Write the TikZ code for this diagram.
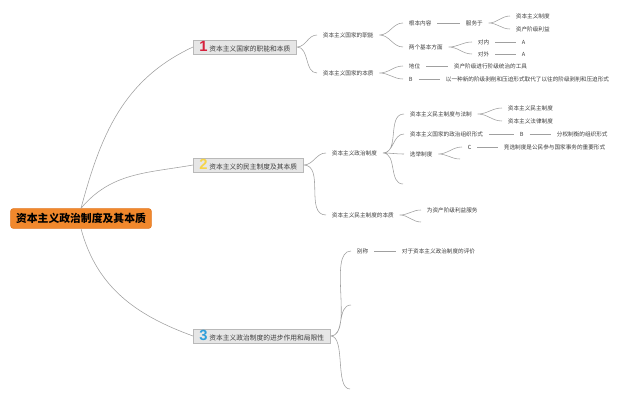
\documentclass[tikz,border=0pt]{standalone}
\usepackage{fontspec}
\newfontfamily\cjk{Noto Sans CJK SC}
\newfontfamily\numfont{Liberation Sans}
\definecolor{rootorange}{RGB}{241,136,44}
\definecolor{rootedge}{RGB}{226,118,30}
\definecolor{topicgray}{RGB}{230,230,230}
\definecolor{topicedge}{RGB}{185,185,185}
\definecolor{twiggray}{RGB}{160,160,160}
\definecolor{leaftext}{RGB}{60,60,60}
\definecolor{numred}{RGB}{214,32,60}
\definecolor{numyellow}{RGB}{246,212,72}
\definecolor{numblue}{RGB}{46,158,218}
\newcommand\topicnum[2]{{\color{#1}\numfont\bfseries\fontsize{10.5}{10}\selectfont #2}\hspace{1.2pt}}
\tikzset{
  twig/.style={draw=twiggray, line width=0.4pt},
  swing/.style={out=0, in=180},
  leaf/.style={anchor=west, inner xsep=4pt, inner ysep=1pt, text=leaftext, font=\cjk\fontsize{4}{5}\selectfont},
  topicbox/.style={anchor=west, fill=topicgray, draw=topicedge, line width=0.4pt, minimum height=0.35cm, inner xsep=4.4pt, inner ysep=0pt, text=leaftext, font=\cjk\fontsize{4.8}{6}\selectfont},
  rootbox/.style={fill=rootorange, draw=rootedge, line width=0.4pt, rounded corners=2pt, minimum width=3.52cm, minimum height=0.46cm, font=\cjk\bfseries\fontsize{7.7}{9}\selectfont}
}
\begin{document}
\begin{tikzpicture}[x=0.025cm,y=-0.025cm]
  \useasboundingbox (0,0) rectangle (640,400);
  \node[rootbox] (root) at (81,218.5) {资本主义政治制度及其本质};
  \node[topicbox] (t1) at (193,47)  {\topicnum{numred}{1}资本主义国家的职能和本质};
  \node[topicbox] (t2) at (193,165) {\topicnum{numyellow}{2}资本主义的民主制度及其本质};
  \node[topicbox] (t3) at (193,336) {\topicnum{numblue}{3}资本主义政治制度的进步作用和局限性};
  \draw[twig] (root.north) to[out=75,in=205] (t1.west);
  \draw[twig] (root.north) to[out=50,in=190] (t2.west);
  \draw[twig] (root.south) to[out=-75,in=160] (t3.west);

  \node[leaf] (a1) at (317,35) {资本主义国家的职能};
  \node[leaf] (a2) at (317,73) {资本主义国家的本质};
  \node[leaf] (b1) at (403,23) {根本内容};
  \node[leaf] (b2) at (403,47) {两个基本方面};
  \node[leaf] (c1) at (460,23) {服务于};
  \node[leaf] (d1) at (510,16) {资本主义制度};
  \node[leaf] (d2) at (510,29) {资产阶级利益};
  \node[leaf] (e1) at (472,42) {对内};
  \node[leaf] (e2) at (472,54) {对外};
  \node[leaf] (e3) at (516,42) {A};
  \node[leaf] (e4) at (516,54) {A};
  \node[leaf] (f1) at (403,66) {地位};
  \node[leaf] (f2) at (403,79) {B};
  \node[leaf] (f3) at (448,66) {资产阶级进行阶级统治的工具};
  \node[leaf] (f4) at (440,79) {以一种新的阶级剥削和压迫形式取代了以往的阶级剥削和压迫形式};
  \draw[twig] (t1.east) to[swing] (a1.west) (t1.east) to[swing] (a2.west);
  \draw[twig] (a1.east) to[swing] (b1.west) (a1.east) to[swing] (b2.west);
  \draw[twig] (c1.east) to[swing] (d1.west) (c1.east) to[swing] (d2.west);
  \draw[twig] (b2.east) to[swing] (e1.west) (b2.east) to[swing] (e2.west);
  \draw[twig] (a2.east) to[swing] (f1.west) (a2.east) to[swing] (f2.west);
  \draw[twig] (b1) -- (c1) (e1) -- (e3) (e2) -- (e4) (f1) -- (f3) (f2) -- (f4);

  \node[leaf] (g1) at (326,153) {资本主义政治制度};
  \node[leaf] (g2) at (326,215) {资本主义民主制度的本质};
  \node[leaf] (h1) at (404,114) {资本主义民主制度与法制};
  \node[leaf] (h2) at (404,134) {资本主义国家的政治组织形式};
  \node[leaf] (h3) at (404,154) {选举制度};
  \coordinate (hx) at (403,184);
  \node[leaf] (i1) at (502,108) {资本主义民主制度};
  \node[leaf] (i2) at (502,121) {资本主义法律制度};
  \node[leaf] (h4) at (514,134) {B};
  \node[leaf] (h5) at (551,134) {分权制衡的组织形式};
  \node[leaf] (j1) at (462,147) {C};
  \coordinate (jx) at (460,159);
  \node[leaf] (j2) at (498,147) {竞选制度是公民参与国家事务的重要形式};
  \node[leaf] (k1) at (421,210) {为资产阶级利益服务};
  \coordinate (kx) at (421,222);
  \draw[twig] (t2.east) to[swing] (g1.west) (t2.east) to[swing] (g2.west);
  \draw[twig] (g1.east) to[swing] (h1.west) (g1.east) to[swing] (h2.west)
              (g1.east) to[swing] (h3.west) (g1.east) to[swing] (hx);
  \draw[twig] (h1.east) to[swing] (i1.west) (h1.east) to[swing] (i2.west);
  \draw[twig] (h3.east) to[swing] (j1.west) (h3.east) to[swing] (jx);
  \draw[twig] (g2.east) to[swing] (k1.west) (g2.east) to[swing] (kx);
  \draw[twig] (h2) -- (h4) (h4) -- (h5) (j1) -- (j2);

  \node[leaf] (m1) at (351,251) {别称};
  \node[leaf] (m2) at (396,251) {对于资本主义政治制度的评价};
  \coordinate (mx1) at (351,305);
  \coordinate (mx2) at (350,389);
  \draw[twig] (t3.east) to[swing, looseness=0.7] (m1.west) (t3.east) to[swing] (mx1)
              (t3.east) to[swing, looseness=0.7] (mx2);
  \draw[twig] (m1) -- (m2);
\end{tikzpicture}
\end{document}
